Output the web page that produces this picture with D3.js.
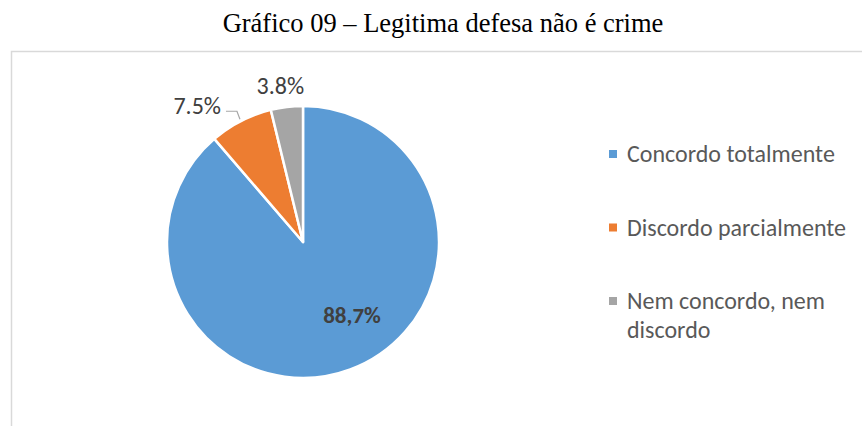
<!DOCTYPE html>
<html>
<head>
<meta charset="utf-8">
<script src="https://cdn.jsdelivr.net/npm/d3@7"></script>
<style>
  html, body { margin: 0; padding: 0; background: #fff; }
  svg { display: block; }
</style>
</head>
<body>
<div id="chart"></div>
<script>
// chart values
const categories = ["Concordo totalmente", "Discordo parcialmente", "Nem concordo, nem discordo"];
const values = [88.7, 7.5, 3.8];
const valueLabels = ["88,7%", "7.5%", "3.8%"];
const colors = ["#5b9bd5", "#ed7d31", "#a5a5a5"];
const legendLines = [["Concordo totalmente"], ["Discordo parcialmente"], ["Nem concordo, nem", "discordo"]];

const width = 862, height = 426;
const cx = 303, cy = 242, radius = 136;
const labelFont = "Carlito, Calibri, 'Open Sans', sans-serif";

const svg = d3.select("#chart").append("svg")
  .attr("width", width)
  .attr("height", height);

// title
svg.append("text")
  .attr("x", 443)
  .attr("y", 32)
  .attr("text-anchor", "middle")
  .attr("font-family", "'Liberation Serif', 'Times New Roman', serif")
  .attr("font-size", "26.5px")
  .attr("fill", "#000")
  .text("Gráfico 09 – Legitima defesa não é crime");

// chart frame (clipped at right and bottom)
svg.append("path")
  .attr("d", "M11.5," + (height + 2) + "V51.5H" + (width + 2))
  .attr("fill", "none")
  .attr("stroke", "#d9d9d9")
  .attr("stroke-width", 1.5);

const pie = d3.pie().sort(null).value(d => d);
const arcs = pie(values);
const arc = d3.arc().innerRadius(0).outerRadius(radius);

const g = svg.append("g").attr("transform", `translate(${cx},${cy})`);

g.selectAll("path.slice")
  .data(arcs)
  .enter()
  .append("path")
  .attr("class", "slice")
  .attr("d", arc)
  .attr("fill", (d, i) => colors[i])
  .attr("stroke", "#fff")
  .attr("stroke-width", 2.5)
  .attr("stroke-linejoin", "round");

function polar(a, r) {
  return [Math.sin(a) * r, -Math.cos(a) * r];
}
const mid = d => (d.startAngle + d.endAngle) / 2;

// inside label (big slice)
const inner = polar(mid(arcs[0]) - 0.236, 88);
g.append("text")
  .attr("x", inner[0])
  .attr("y", inner[1])
  .attr("dy", "0.35em")
  .attr("text-anchor", "middle")
  .attr("font-family", labelFont)
  .attr("font-size", "23px")
  .attr("font-weight", "bold")
  .attr("fill", "#404040")
  .text(valueLabels[0]);

// 7.5% with leader line
const p1 = polar(mid(arcs[1]), radius + 2);
const p2 = [p1[0] - 3, p1[1] - 8];
const p3 = [p2[0] - 11, p2[1]];
g.append("path")
  .attr("d", d3.line()([p1, p2, p3]))
  .attr("fill", "none")
  .attr("stroke", "#a6a6a6")
  .attr("stroke-width", 1.2);
g.append("text")
  .attr("x", p3[0] - 5)
  .attr("y", p3[1] - 6)
  .attr("dy", "0.35em")
  .attr("text-anchor", "end")
  .attr("font-family", labelFont)
  .attr("font-size", "24px")
  .attr("fill", "#404040")
  .text(valueLabels[1]);

// 3.8% outside label
const p4 = polar(mid(arcs[2]) - 0.025, radius + 22);
g.append("text")
  .attr("x", p4[0])
  .attr("y", p4[1])
  .attr("dy", "0.35em")
  .attr("text-anchor", "middle")
  .attr("font-family", labelFont)
  .attr("font-size", "24px")
  .attr("fill", "#404040")
  .text(valueLabels[2]);

// legend
const legendY = d3.scalePoint().domain(categories).range([154, 301]);
const legend = svg.selectAll("g.legend")
  .data(categories)
  .enter()
  .append("g")
  .attr("class", "legend")
  .attr("transform", d => `translate(609,${legendY(d)})`);

legend.append("rect")
  .attr("x", 0)
  .attr("y", -4)
  .attr("width", 8)
  .attr("height", 8)
  .attr("fill", (d, i) => colors[i]);

legend.append("text")
  .attr("x", 18)
  .attr("y", 0)
  .attr("font-family", labelFont)
  .attr("font-size", "24px")
  .attr("fill", "#595959")
  .selectAll("tspan")
  .data((d, i) => legendLines[i])
  .enter()
  .append("tspan")
  .attr("x", 18)
  .attr("dy", (d, j) => j === 0 ? "0.35em" : "29px")
  .text(d => d);
</script>
</body>
</html>
